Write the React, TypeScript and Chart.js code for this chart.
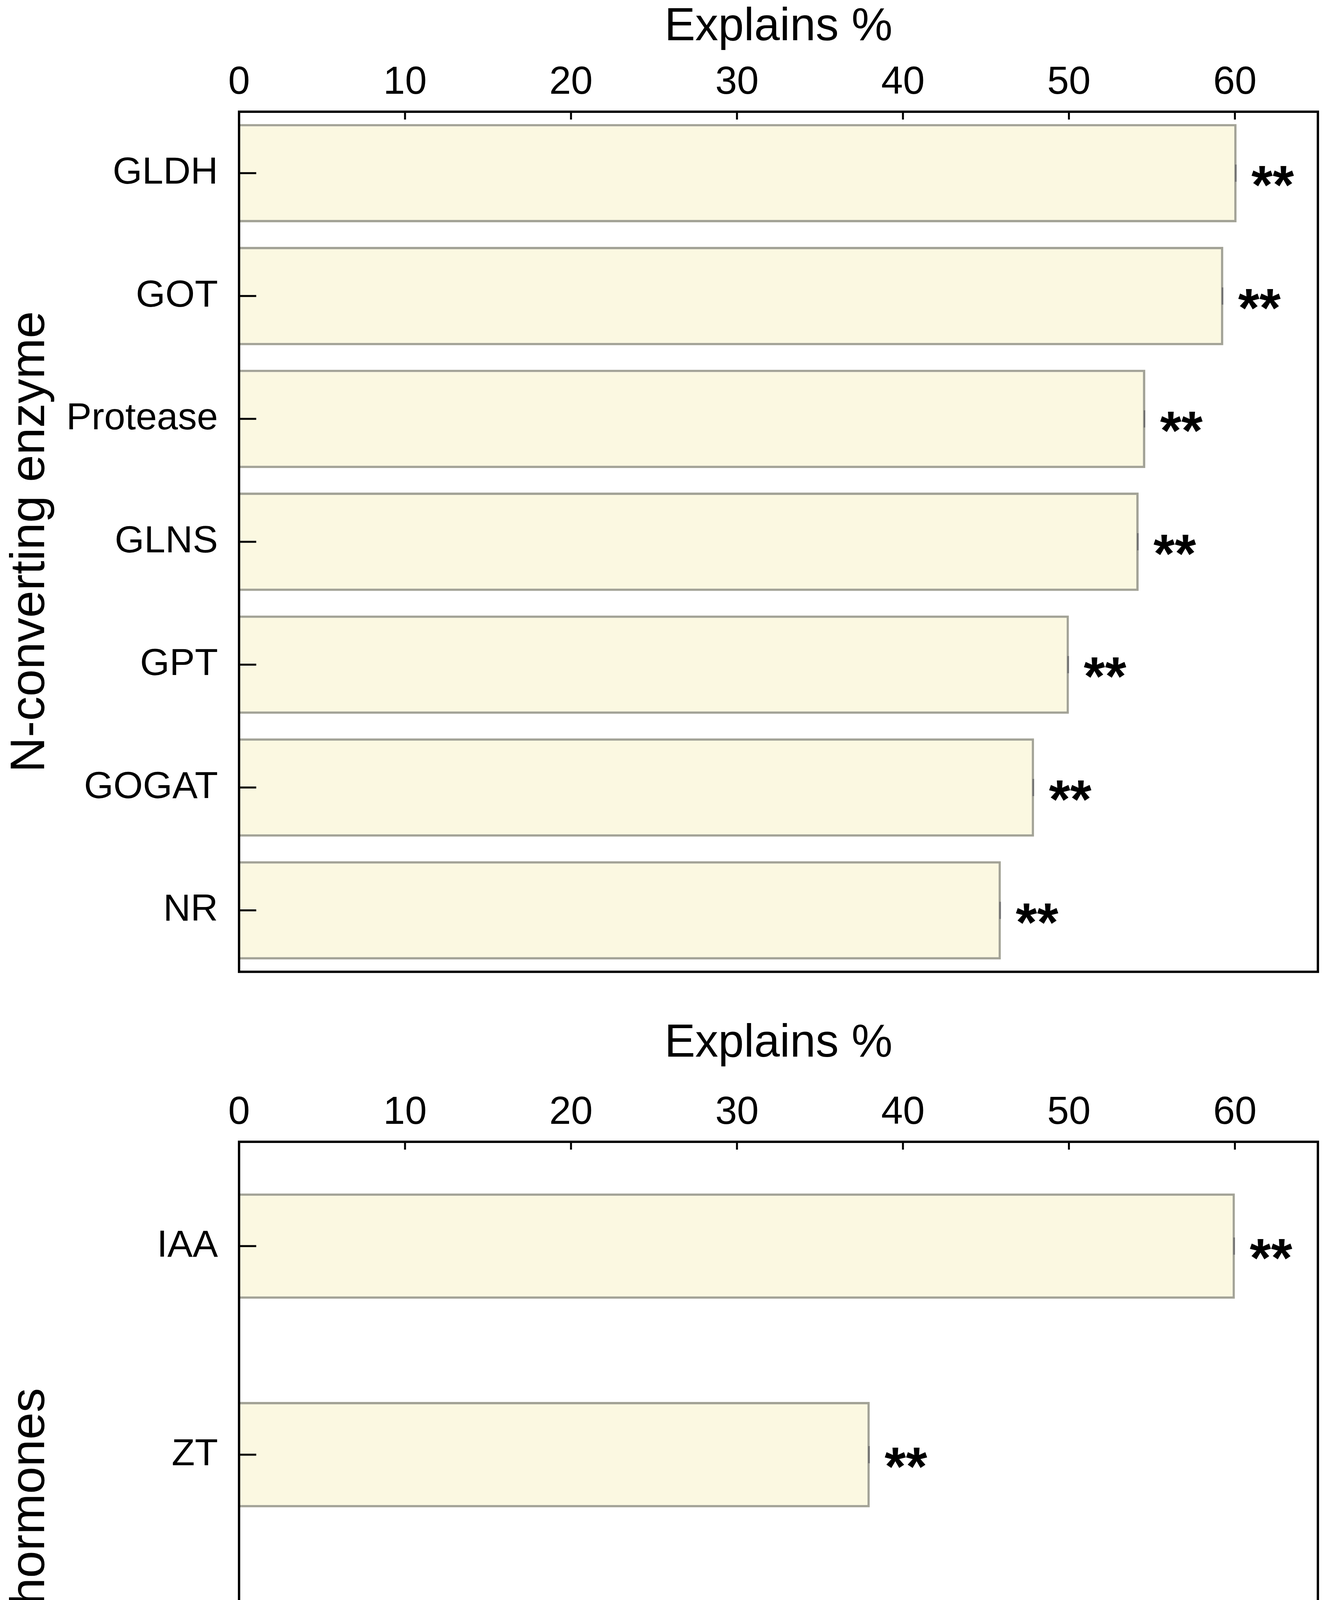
import React, { useEffect, useRef } from "react";
import { Chart, registerables } from "chart.js";

Chart.register(...registerables);

// ---------- data ----------
const enzymeLabels = ["GLDH", "GOT", "Protease", "GLNS", "GPT", "GOGAT", "NR"];
const enzymeValues = [60.1, 59.3, 54.6, 54.2, 50.0, 47.9, 45.9];
const enzymeSig = ["**", "**", "**", "**", "**", "**", "**"];

const hormoneLabels = ["IAA", "ZT", "ABA", "GA"];
const hormoneValues = [60.0, 38.0, 31.6, 26.8];
const hormoneSig = ["**", "**", "**", "**"];

const xTickValues = [0, 10, 20, 30, 40, 50, 60];
const xMin = 0;
const xMax = 65;
const xTitle = "Explains %";
const enzymeTitle = "N-converting enzyme";
const hormoneTitle = "Phytohormones";

const FONT = '"Liberation Sans", Arial, Helvetica, sans-serif';
const W = 3405;

const decorPlugin = {
  id: "decor",
  afterDatasetsDraw(chart: any, _args: any, opts: any) {
    const ctx = chart.ctx;
    const meta = chart.getDatasetMeta(0);
    const sig: string[] = opts.sig || [];
    ctx.save();
    meta.data.forEach((el: any, i: number) => {
      const { x, y } = el.getProps(["x", "y"], true);
      ctx.strokeStyle = "#6e6e6e";
      ctx.lineWidth = 4;
      ctx.beginPath();
      ctx.moveTo(x - 2, y - 22);
      ctx.lineTo(x - 2, y + 22);
      ctx.stroke();
      const fs = 140;
      ctx.fillStyle = "#000";
      ctx.font = `bold ${fs}px ${FONT}`;
      ctx.textAlign = "left";
      ctx.textBaseline = "alphabetic";
      ctx.fillText(sig[i] || "", x + 38, y + 0.557 * fs);
    });
    ctx.restore();
  },
  afterDraw(chart: any) {
    const ctx = chart.ctx;
    const a = chart.chartArea;
    const xs = chart.scales.x;
    const ys = chart.scales.y;
    ctx.save();
    ctx.strokeStyle = "#000";
    // x ticks (inward, at top)
    ctx.lineWidth = 5;
    xTickValues.forEach((v) => {
      if (v === xMin) return;
      const px = xs.getPixelForValue(v);
      ctx.beginPath();
      ctx.moveTo(px, a.top);
      ctx.lineTo(px, a.top + 20);
      ctx.stroke();
    });
    // y ticks (inward, at left)
    ys.ticks.forEach((_t: any, i: number) => {
      const py = ys.getPixelForTick(i);
      ctx.beginPath();
      ctx.moveTo(a.left, py);
      ctx.lineTo(a.left + 44, py);
      ctx.stroke();
    });
    // frame
    ctx.lineWidth = 6;
    ctx.strokeRect(a.left, a.top, a.right - a.left, a.bottom - a.top);
    ctx.restore();
  },
};

type PanelProps = {
  labels: string[];
  values: number[];
  sig: string[];
  yTitle: string;
  top: number;
  height: number;
  axisHeight: number;
  padBottom: number;
  barPct: number;
  titlePadTop: number;
};

function BarPanel(p: PanelProps) {
  const ref = useRef<HTMLCanvasElement | null>(null);
  useEffect(() => {
    if (!ref.current) return;
    const chart = new Chart(ref.current, {
      type: "bar",
      data: {
        labels: p.labels,
        datasets: [
          {
            data: p.values,
            backgroundColor: "#FBF8E1",
            borderColor: "#A3A397",
            borderWidth: 6,
            borderSkipped: "start",
            categoryPercentage: 1,
            barPercentage: p.barPct,
          },
        ],
      },
      plugins: [decorPlugin as any],
      options: {
        animation: false,
        responsive: false,
        devicePixelRatio: 1,
        indexAxis: "y",
        layout: { padding: { left: 0, right: W - 3374, top: 0, bottom: p.padBottom } },
        plugins: {
          legend: { display: false },
          tooltip: { enabled: false },
          decor: { sig: p.sig },
        } as any,
        scales: {
          x: {
            type: "linear",
            position: "top",
            min: xMin,
            max: xMax,
            grid: { display: false, drawTicks: false },
            border: { display: false },
            afterBuildTicks: (s: any) => {
              s.ticks = xTickValues.map((v) => ({ value: v }));
            },
            afterFit: (s: any) => {
              s.height = p.axisHeight;
            },
            ticks: {
              color: "#000",
              padding: 14,
              maxRotation: 0,
              autoSkip: false,
              font: { family: FONT, size: 100 },
            },
            title: {
              display: true,
              text: xTitle,
              color: "#000",
              padding: { top: p.titlePadTop, bottom: 0 },
              font: { family: FONT, size: 118 },
            },
          },
          y: {
            type: "category",
            position: "left",
            offset: true,
            grid: { display: false, drawTicks: false },
            border: { display: false },
            afterFit: (s: any) => {
              s.width = 612;
            },
            ticks: {
              color: "#000",
              padding: 54,
              autoSkip: false,
              font: { family: FONT, size: 97 },
            },
            title: {
              display: true,
              text: p.yTitle,
              color: "#000",
              padding: { top: 4, bottom: 0 },
              font: { family: FONT, size: 125 },
            },
          },
        },
      } as any,
    });
    return () => chart.destroy();
  }, []);
  return (
    <canvas
      ref={ref}
      width={W}
      height={p.height}
      style={{ position: "absolute", left: 0, top: p.top, width: W, height: p.height, display: "block" }}
    />
  );
}

export default function App() {
  return (
    <div style={{ position: "absolute", left: 0, top: 0, width: W, height: 5171, background: "#fff", overflow: "hidden" }}>
      <BarPanel
        labels={enzymeLabels}
        values={enzymeValues}
        sig={enzymeSig}
        yTitle={enzymeTitle}
        top={0}
        height={2600}
        axisHeight={286}
        padBottom={87}
        barPct={0.8}
        titlePadTop={0}
      />
      <BarPanel
        labels={hormoneLabels}
        values={hormoneValues}
        sig={hormoneSig}
        yTitle={hormoneTitle}
        top={2600}
        height={2571}
        axisHeight={323}
        padBottom={25}
        barPct={0.505}
        titlePadTop={2}
      />
    </div>
  );
}
